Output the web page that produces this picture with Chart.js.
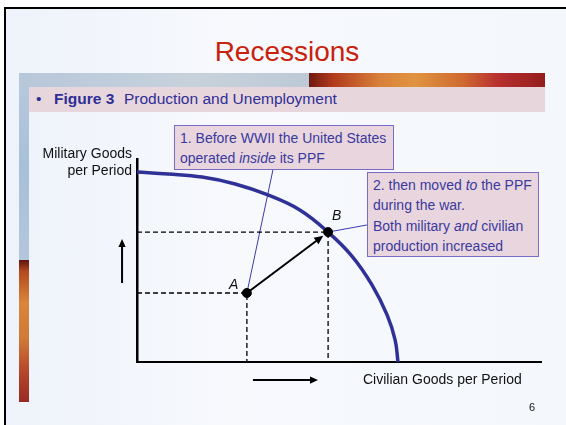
<!DOCTYPE html>
<html>
<head>
<meta charset="utf-8">
<script src="https://cdn.jsdelivr.net/npm/chart.js@4.4.1/dist/chart.umd.min.js"></script>
<style>
  html, body { margin: 0; padding: 0; background: #fff; }
  #slide { position: relative; width: 566px; height: 425px; overflow: hidden;
           font-family: "Liberation Sans", Arial, sans-serif; }
  .abs { position: absolute; }
  #bg { left: 4px; top: 7px; right: 0; bottom: 0;
        background: linear-gradient(90deg, #eef2fa 0%, #f7f9fd 40%, #f4f7fc 100%); }
  #frameTop { left: 4px; top: 7px; width: 562px; height: 2px; background: #000; }
  #frameLeft { left: 4px; top: 7px; width: 2px; height: 418px; background: #000; }
  #stripBlue { left: 19px; top: 73px; width: 10px; height: 187px;
        background: linear-gradient(180deg, #b8c9dc, #a9bfd9 50%, #b3c6db); }
  #stripWarm { left: 19px; top: 260px; width: 10px; height: 142px;
        background: linear-gradient(180deg, #5e1410 0%, #b24a1e 8%, #d9853a 30%, #d07a36 55%, #b5442a 80%, #992a22 100%); }
  #bandBlue { left: 19px; top: 73px; width: 290px; height: 14px;
        background: linear-gradient(90deg, #b7c7da, #c7d2dc 60%, #bdc9d6); }
  #bandWarm { left: 309px; top: 73px; width: 236px; height: 14px;
        background: linear-gradient(90deg, #6e1812 0%, #b03a1c 10%, #d9803a 30%, #e09440 45%, #cf6a30 65%, #b83030 80%, #941c1c 100%); }
  #bandPink { left: 29px; top: 87px; width: 516px; height: 25px; background: #e8d6dd; }
  #title { left: 0; width: 574px; top: 33px; text-align: center; font-size: 28px; color: #c8220e; line-height: 38px; }
  .fig { top: 89px; font-size: 15.5px; color: #2e2e96; line-height: 20px; white-space: pre; }
  .callout { background: #e8d5dd; border: 1px solid #7a6cc4; color: #3a3a9e; font-size: 14px;
             line-height: 20.4px; padding: 0 0 0 5px; box-sizing: border-box; white-space: nowrap; }
  .lbl { font-size: 14px; color: #111; line-height: 17px; white-space: nowrap; }
  canvas { position: absolute; left: 0; top: 0; }
</style>
</head>
<body>
<div id="slide">
  <div class="abs" id="bg"></div>
  <div class="abs" id="frameTop"></div>
  <div class="abs" id="frameLeft"></div>
  <div class="abs" id="stripBlue"></div>
  <div class="abs" id="stripWarm"></div>
  <div class="abs" id="bandBlue"></div>
  <div class="abs" id="bandWarm"></div>
  <div class="abs" id="bandPink"></div>
  <div class="abs" id="title">Recessions</div>
  <div class="abs fig" style="left:36px;">•</div>
  <div class="abs fig" style="left:54px; font-weight:bold;">Figure 3</div>
  <div class="abs fig" style="left:124px;">Production and Unemployment</div>

  <canvas id="ppfChart" width="566" height="425"></canvas>

  <div class="abs callout" style="left:174px; top:125px; width:220px; height:45px; padding-top:2px;">
    1. Before WWII the United States<br>operated <i>inside</i> its PPF
  </div>
  <div class="abs callout" style="left:367px; top:172px; width:172px; height:85px; padding-top:2px;">
    2. then moved <i>to</i> the PPF<br>during the war.<br>Both military <i>and</i> civilian<br>production increased
  </div>

  <div class="abs lbl" style="right:434px; top:145px; text-align:right;">Military Goods<br>per Period</div>
  <div class="abs lbl" style="left:363px; top:371px;">Civilian Goods per Period</div>
  <div class="abs lbl" style="left:229px; top:276px; font-style:italic;">A</div>
  <div class="abs lbl" style="left:332px; top:207px; font-style:italic;">B</div>
  <div class="abs lbl" style="left:529px; top:399px; font-size:11px;">6</div>
</div>

<script>
// production possibilities frontier (axis units 0-100)
const ppfCivilian = [0, 7.7, 16.1, 24.3, 32.4, 40.3, 47.3, 53.2, 58.2, 61.9, 63.9, 64.6];
const ppfMilitary = [93.6, 92.6, 91.1, 87.7, 82.3, 74.9, 64.0, 52.2, 37.9, 23.2, 10.8, 0];

// the two economy positions
const pointNames = ['A', 'B'];
const pointCivilian = [27.2, 47.3];
const pointMilitary = [34.0, 64.0];

// where the callout leader lines end
const leaderCivilian = [33.7, 56.9];
const leaderMilitary = [95.1, 67.5];

const xy = (xs, ys) => xs.map((v, i) => ({x: v, y: ys[i]}));

// dashed guides: axis -> point -> axis
const guides = pointNames.map((n, i) => ({
  label: 'guide ' + n,
  data: [{x: 0, y: pointMilitary[i]}, {x: pointCivilian[i], y: pointMilitary[i]}, {x: pointCivilian[i], y: 0}],
  showLine: true,
  borderColor: '#000',
  borderWidth: 1.3,
  borderDash: [5, 3],
  pointRadius: 0,
  order: 3
}));

const leaders = pointNames.map((n, i) => ({
  label: 'leader ' + n,
  data: [{x: pointCivilian[i], y: pointMilitary[i]}, {x: leaderCivilian[i], y: leaderMilitary[i]}],
  showLine: true,
  borderColor: '#3a3aa8',
  borderWidth: 1,
  pointRadius: 0,
  order: 4
}));

// arrows in axis units
const arrowPlugin = {
  id: 'arrows',
  afterDatasetsDraw(chart, args, opts) {
    const {ctx, scales: {x, y}} = chart;
    ctx.save();
    ctx.strokeStyle = '#000';
    ctx.fillStyle = '#000';
    opts.items.forEach(a => {
      let x1 = x.getPixelForValue(a.from[0]), y1 = y.getPixelForValue(a.from[1]);
      let x2 = x.getPixelForValue(a.to[0]), y2 = y.getPixelForValue(a.to[1]);
      const ang = Math.atan2(y2 - y1, x2 - x1);
      x2 -= Math.cos(ang) * (a.shorten || 0);
      y2 -= Math.sin(ang) * (a.shorten || 0);
      const hl = a.head || 8, hw = (a.head || 8) * 0.45;
      ctx.lineWidth = a.width || 2;
      ctx.beginPath();
      ctx.moveTo(x1, y1);
      ctx.lineTo(x2 - Math.cos(ang) * hl * 0.8, y2 - Math.sin(ang) * hl * 0.8);
      ctx.stroke();
      ctx.beginPath();
      ctx.moveTo(x2, y2);
      ctx.lineTo(x2 - Math.cos(ang) * hl + Math.sin(ang) * hw, y2 - Math.sin(ang) * hl - Math.cos(ang) * hw);
      ctx.lineTo(x2 - Math.cos(ang) * hl - Math.sin(ang) * hw, y2 - Math.sin(ang) * hl + Math.cos(ang) * hw);
      ctx.closePath();
      ctx.fill();
    });
    ctx.restore();
  }
};

new Chart(document.getElementById('ppfChart'), {
  type: 'scatter',
  data: {
    datasets: [
      {
        label: 'positions',
        data: xy(pointCivilian, pointMilitary),
        pointRadius: 4.5,
        pointBackgroundColor: '#000',
        pointBorderColor: '#000',
        order: 0
      },
      {
        label: 'PPF',
        data: xy(ppfCivilian, ppfMilitary),
        showLine: true,
        borderColor: '#2f3196',
        borderWidth: 3.5,
        pointRadius: 0,
        tension: 0.4,
        order: 1
      },
      ...guides,
      ...leaders
    ]
  },
  options: {
    responsive: false,
    animation: false,
    layout: { padding: { left: 137, right: 25, top: 159, bottom: 63 } },
    plugins: {
      legend: { display: false },
      tooltip: { enabled: false },
      arrows: {
        items: [
          { from: [pointCivilian[0], pointMilitary[0]], to: [pointCivilian[1], pointMilitary[1]], shorten: 6, width: 2, head: 9 },
          { from: [-3.7, 38.9], to: [-3.7, 60.6], width: 2, head: 8 },
          { from: [28.7, -8.9], to: [44.8, -8.9], width: 2, head: 8 }
        ]
      }
    },
    scales: {
      x: {
        type: 'linear', min: 0, max: 100,
        ticks: { display: false },
        grid: { display: false, drawTicks: false },
        border: { display: true, color: '#000', width: 2 }
      },
      y: {
        type: 'linear', min: 0, max: 100,
        ticks: { display: false },
        grid: { display: false, drawTicks: false },
        border: { display: true, color: '#000', width: 2.5 }
      }
    }
  },
  plugins: [arrowPlugin]
});
</script>
</body>
</html>
